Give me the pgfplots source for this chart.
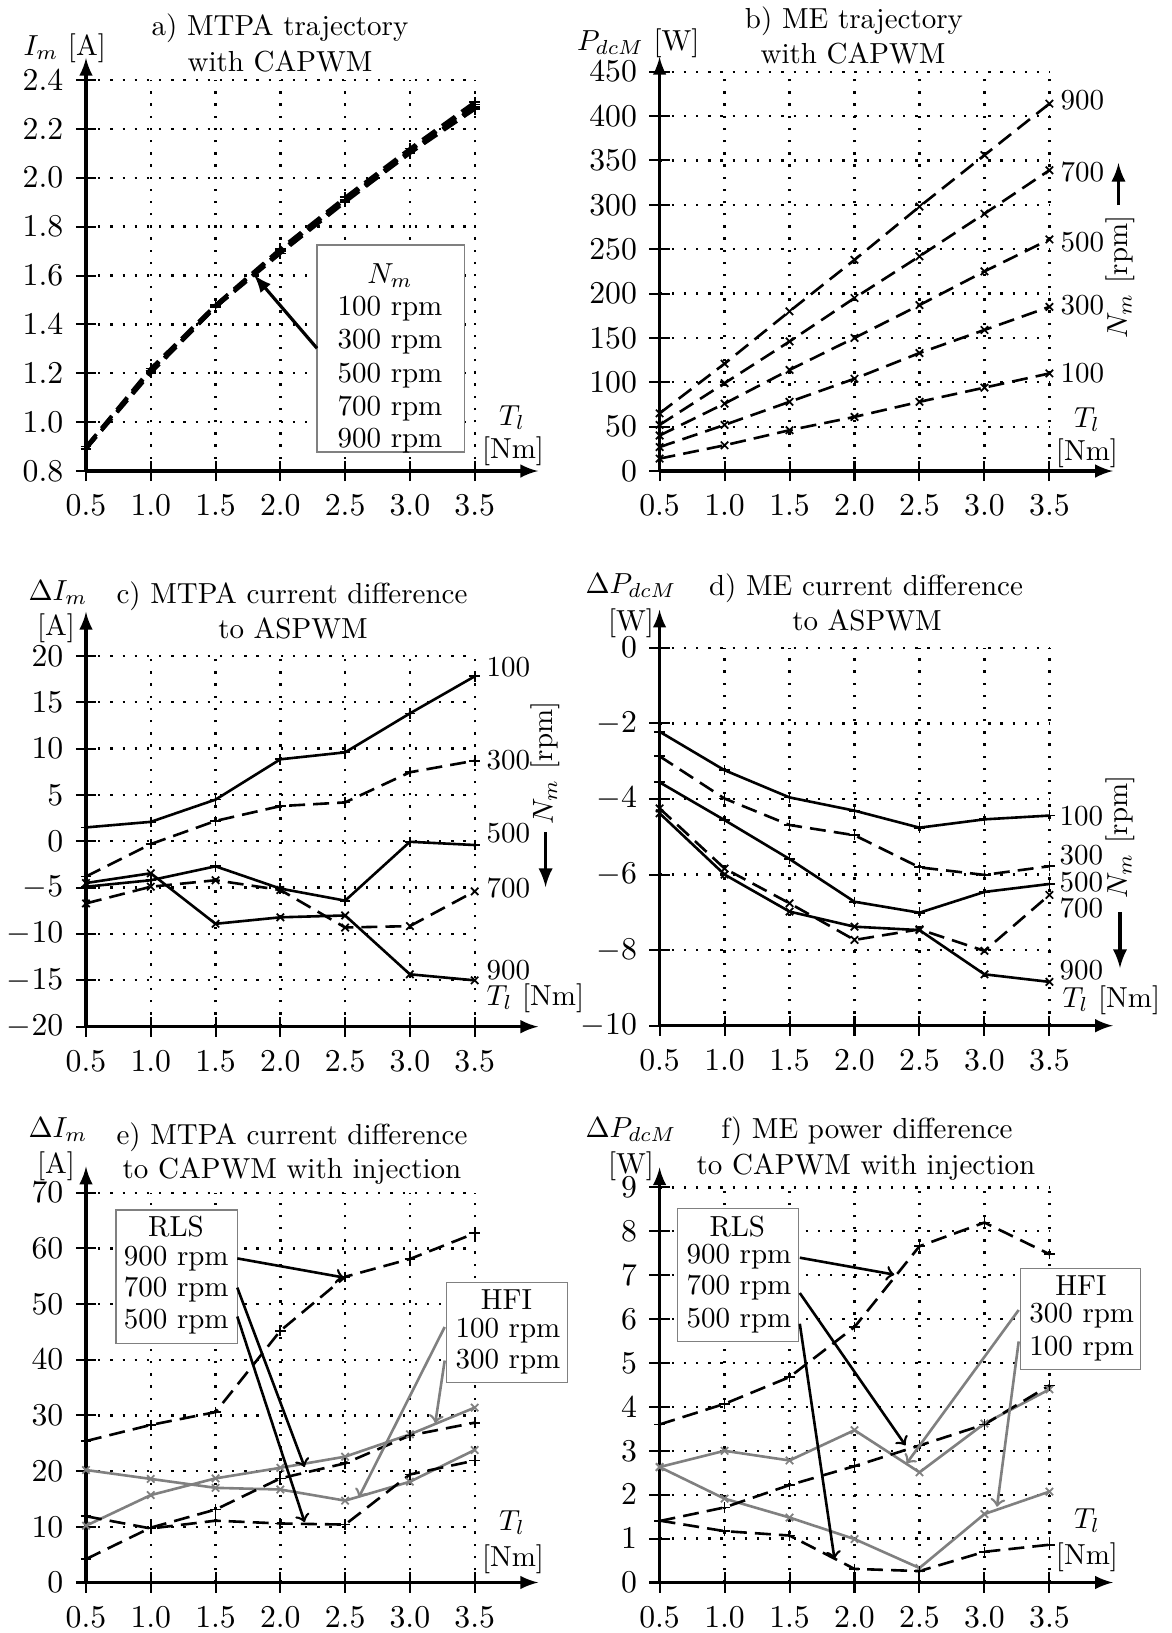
\documentclass[border=0pt]{standalone}
\usepackage{pgfplots}
\pgfplotsset{compat=1.18}
\begin{document}
\begin{tikzpicture}
\path[use as bounding box] (0,0) rectangle (404.34pt,-563.39pt);
\pgfplotsset{
  base/.style={
    scale only axis, clip=false, anchor=south west,
    axis lines=left,
    axis line style={line width=1.1pt,-latex},
    xmin=0.5, xmax=3.5, xtick={0.5,1.0,1.5,2.0,2.5,3.0,3.5},
    ticklabel style={font=\fontsize{11}{13}\selectfont},
    xticklabel style={yshift=-1.3pt, /pgf/number format/.cd,fixed,fixed zerofill,precision=1},
    yticklabel style={xshift=-0.8pt},
    x axis line style={shorten >=-21.9pt},
    grid=major,
    grid style={black, line width=0.8pt, dash pattern=on 0.8pt off 3.4pt},
    tick align=center, major tick length=7pt,
    tick style={black, line width=0.7pt},
    mark size=1.8pt,
  },
  dsh/.style={dash pattern=on 5.5pt off 2.8pt},
  pl/.style={black, line width=0.9pt, mark options={solid, line width=0.6pt}},
  hf/.style={black!50, line width=0.9pt, mark=x, mark options={solid, line width=0.6pt, black!50}},
}
% ---------- a ----------
\begin{axis}[base, at={(29.67pt,-162.5pt)}, width=134.1pt, height=134.9pt,
  ymin=0.8, ymax=2.4, ytick={0.8,1.0,1.2,1.4,1.6,1.8,2.0,2.2,2.4},
  yticklabel style={/pgf/number format/.cd,fixed,fixed zerofill,precision=1},
  y axis line style={shorten >=-7.6pt}]
\addplot[pl, dsh, mark=+, line width=1.1pt] coordinates {(0.5,0.89)(1.0,1.21)(1.5,1.47)(2.0,1.70)(2.5,1.91)(3.0,2.11)(3.5,2.29)};
\addplot[pl, dsh, mark=+, line width=1.1pt] coordinates {(0.5,0.89)(1.0,1.21)(1.5,1.47)(2.0,1.70)(2.5,1.91)(3.0,2.10)(3.5,2.29)};
\addplot[pl, dsh, mark=+, line width=1.1pt] coordinates {(0.5,0.90)(1.0,1.21)(1.5,1.48)(2.0,1.70)(2.5,1.91)(3.0,2.11)(3.5,2.30)};
\addplot[pl, dsh, mark=+, line width=1.1pt] coordinates {(0.5,0.89)(1.0,1.20)(1.5,1.47)(2.0,1.69)(2.5,1.90)(3.0,2.10)(3.5,2.28)};
\addplot[pl, dsh, mark=+, line width=1.1pt] coordinates {(0.5,0.90)(1.0,1.22)(1.5,1.48)(2.0,1.71)(2.5,1.92)(3.0,2.12)(3.5,2.31)};
\end{axis}
% ---------- b ----------
\begin{axis}[base, at={(227.56pt,-162.5pt)}, width=134.5pt, height=137.76pt,
  ymin=0, ymax=450, ytick={0,50,...,450},
  y axis line style={shorten >=-5.1pt}]
\addplot[pl, dsh, mark=x] coordinates {(0.5,65)(1.0,121)(1.5,180)(2.0,238)(2.5,298)(3.0,356)(3.5,414)};
\addplot[pl, dsh, mark=x] coordinates {(0.5,52)(1.0,99)(1.5,146)(2.0,195)(2.5,242)(3.0,290)(3.5,339)};
\addplot[pl, dsh, mark=x] coordinates {(0.5,40)(1.0,76)(1.5,114)(2.0,150)(2.5,187)(3.0,225)(3.5,261)};
\addplot[pl, dsh, mark=x] coordinates {(0.5,27)(1.0,52)(1.5,78)(2.0,104)(2.5,133)(3.0,159)(3.5,185)};
\addplot[pl, dsh, mark=x] coordinates {(0.5,14)(1.0,29)(1.5,46)(2.0,61)(2.5,78)(3.0,94)(3.5,110)};
\end{axis}
% ---------- c ----------
\begin{axis}[base, at={(29.67pt,-354.2pt)}, width=134.1pt, height=127.9pt,
  ymin=-20, ymax=20, ytick={-20,-15,...,20},
  y axis line style={shorten >=-15.2pt}]
\addplot[pl, mark=+] coordinates {(0.5,1.5)(1.0,2.1)(1.5,4.5)(2.0,8.85)(2.5,9.6)(3.0,13.8)(3.5,17.8)};
\addplot[pl, dsh, mark=+] coordinates {(0.5,-3.8)(1.0,-0.3)(1.5,2.2)(2.0,3.8)(2.5,4.2)(3.0,7.45)(3.5,8.7)};
\addplot[pl, mark=+] coordinates {(0.5,-4.9)(1.0,-4.2)(1.5,-2.7)(2.0,-5.1)(2.5,-6.4)(3.0,-0.05)(3.5,-0.4)};
\addplot[pl, dsh, mark=x] coordinates {(0.5,-6.7)(1.0,-4.9)(1.5,-4.2)(2.0,-5.25)(2.5,-9.3)(3.0,-9.15)(3.5,-5.4)};
\addplot[pl, mark=x] coordinates {(0.5,-4.5)(1.0,-3.45)(1.5,-8.9)(2.0,-8.2)(2.5,-8.0)(3.0,-14.35)(3.5,-15.0)};
\end{axis}
% ---------- d ----------
\begin{axis}[base, at={(227.56pt,-353.87pt)}, width=134.5pt, height=130.4pt,
  ymin=-10, ymax=0, ytick={-10,-8,-6,-4,-2,0},
  y axis line style={shorten >=-13.1pt}]
\addplot[pl, mark=+] coordinates {(0.5,-2.22)(1.0,-3.24)(1.5,-3.96)(2.0,-4.31)(2.5,-4.76)(3.0,-4.54)(3.5,-4.44)};
\addplot[pl, dsh, mark=+] coordinates {(0.5,-2.87)(1.0,-3.99)(1.5,-4.69)(2.0,-4.96)(2.5,-5.81)(3.0,-6.01)(3.5,-5.78)};
\addplot[pl, mark=+] coordinates {(0.5,-3.56)(1.0,-4.56)(1.5,-5.59)(2.0,-6.72)(2.5,-7.01)(3.0,-6.46)(3.5,-6.25)};
\addplot[pl, dsh, mark=x] coordinates {(0.5,-4.25)(1.0,-5.84)(1.5,-6.76)(2.0,-7.73)(2.5,-7.45)(3.0,-8.02)(3.5,-6.54)};
\addplot[pl, mark=x] coordinates {(0.5,-4.38)(1.0,-6.0)(1.5,-6.98)(2.0,-7.38)(2.5,-7.47)(3.0,-8.64)(3.5,-8.84)};
\end{axis}
% ---------- e ----------
\begin{axis}[base, at={(29.67pt,-545.96pt)}, width=134.1pt, height=134.48pt,
  ymin=0, ymax=70, ytick={0,10,...,70},
  y axis line style={shorten >=-9pt}]
\addplot[hf] coordinates {(0.5,20.2)(1.0,18.6)(1.5,17.0)(2.0,16.7)(2.5,14.7)(3.0,18.1)(3.5,23.8)};
\addplot[hf] coordinates {(0.5,10.2)(1.0,15.7)(1.5,18.7)(2.0,20.6)(2.5,22.6)(3.0,26.6)(3.5,31.4)};
\addplot[pl, dsh, mark=+] coordinates {(0.5,25.4)(1.0,28.3)(1.5,30.6)(2.0,45.2)(2.5,54.9)(3.0,58.1)(3.5,62.7)};
\addplot[pl, dsh, mark=+] coordinates {(0.5,4.2)(1.0,9.85)(1.5,13.1)(2.0,18.7)(2.5,21.4)(3.0,26.4)(3.5,28.7)};
\addplot[pl, dsh, mark=+] coordinates {(0.5,11.9)(1.0,9.7)(1.5,11.1)(2.0,10.6)(2.5,10.4)(3.0,19.4)(3.5,21.9)};
\end{axis}
% ---------- f ----------
\begin{axis}[base, at={(227.56pt,-545.96pt)}, width=134.5pt, height=136.3pt,
  ymin=0, ymax=9, ytick={0,1,...,9},
  y axis line style={shorten >=-6.9pt}]
\addplot[hf] coordinates {(0.5,2.63)(1.0,3.0)(1.5,2.78)(2.0,3.47)(2.5,2.51)(3.0,3.62)(3.5,4.4)};
\addplot[hf] coordinates {(0.5,2.63)(1.0,1.91)(1.5,1.48)(2.0,0.99)(2.5,0.33)(3.0,1.56)(3.5,2.07)};
\addplot[pl, dsh, mark=+] coordinates {(0.5,3.6)(1.0,4.07)(1.5,4.68)(2.0,5.82)(2.5,7.66)(3.0,8.2)(3.5,7.48)};
\addplot[pl, dsh, mark=+] coordinates {(0.5,1.40)(1.0,1.71)(1.5,2.22)(2.0,2.65)(2.5,3.12)(3.0,3.6)(3.5,4.49)};
\addplot[pl, dsh, mark=+] coordinates {(0.5,1.41)(1.0,1.17)(1.5,1.07)(2.0,0.31)(2.5,0.26)(3.0,0.70)(3.5,0.86)};
\end{axis}
% ---------- annotations ----------
\begin{scope}[x=0.345pt, y=-0.345pt, every node/.style={inner sep=0pt}]
% titles
\node[anchor=base] at (280,35) {a) MTPA trajectory};
\node[anchor=base] at (280,71.7) {with CAPWM};
\node[anchor=base] at (854,28.3) {b) ME trajectory};
\node[anchor=base] at (853,63) {with CAPWM};
\node[anchor=base] at (292,603) {c) MTPA current difference};
\node[anchor=base] at (293,638) {to ASPWM};
\node[anchor=base] at (866,595) {d) ME current difference};
\node[anchor=base] at (867,630) {to ASPWM};
\node[anchor=base] at (292,1144) {e) MTPA current difference};
\node[anchor=base] at (292,1178) {to CAPWM with injection};
\node[anchor=base] at (867,1138.6) {f) ME power difference};
\node[anchor=base] at (866,1174.7) {to CAPWM with injection};
% y labels
\node[anchor=base west] at (23,55) {$I_m$ [A]};
\node[anchor=base east] at (700,50) {$P_{dcM}$ [W]};
\node[anchor=base] at (58,600) {$\Delta I_m$};
\node[anchor=base] at (56,635) {[A]};
\node[anchor=base] at (631,593) {$\Delta P_{dcM}$};
\node[anchor=base] at (631,630) {[W]};
\node[anchor=base] at (58,1137) {$\Delta I_m$};
\node[anchor=base] at (56,1173) {[A]};
\node[anchor=base] at (631,1137) {$\Delta P_{dcM}$};
\node[anchor=base] at (631,1173) {[W]};
% x labels
\node[anchor=base] at (512,425) {$T_l$};
\node[anchor=base] at (513,458) {[Nm]};
\node[anchor=base] at (1087,427) {$T_l$};
\node[anchor=base] at (1087,460) {[Nm]};
\node[anchor=base west] at (486,1005) {$T_l$ [Nm]};
\node[anchor=base west] at (1062,1007) {$T_l$ [Nm]};
\node[anchor=base] at (512,1530) {$T_l$};
\node[anchor=base] at (513,1566) {[Nm]};
\node[anchor=base] at (1087,1528) {$T_l$};
\node[anchor=base] at (1087,1564) {[Nm]};
% right labels b
\node[anchor=west] at (1060,100) {900};
\node[anchor=west] at (1060,172) {700};
\node[anchor=west] at (1060,242) {500};
\node[anchor=west] at (1060,305) {300};
\node[anchor=west] at (1060,373) {100};
\node[rotate=90] at (1120,277) {$N_m$ [rpm]};
\draw[line width=1.2pt,-latex] (1118.5,205) -- (1118.5,163);
% right labels c
\node[anchor=west] at (486,667) {100};
\node[anchor=west] at (486,760) {300};
\node[anchor=west] at (486,833) {500};
\node[anchor=west] at (486,888) {700};
\node[anchor=west] at (486,970) {900};
\node[rotate=90] at (545.6,763) {$N_m$ [rpm]};
\draw[line width=1.2pt,-latex] (545.6,832) -- (545.6,887);
% right labels d
\node[anchor=west] at (1059,816) {100};
\node[anchor=west] at (1059,855) {300};
\node[anchor=west] at (1059,882) {500};
\node[anchor=west] at (1059,908) {700};
\node[anchor=west] at (1059,970) {900};
\node[rotate=90] at (1120,837) {$N_m$ [rpm]};
\draw[line width=1.2pt,-latex] (1120,912) -- (1120,968);
% legend a
\draw[black!50, fill=white, line width=0.4pt] (317,245) rectangle (464.5,452);
\node[anchor=base] at (390,283) {$N_m$};
\node[anchor=base] at (390,315) {100 rpm};
\node[anchor=base] at (390,348.5) {300 rpm};
\node[anchor=base] at (390,382) {500 rpm};
\node[anchor=base] at (390,415) {700 rpm};
\node[anchor=base] at (390,447) {900 rpm};
\draw[line width=1.1pt,-latex] (317,348.3) -- (254.1,275);
% e boxes
\draw[black!50, fill=white, line width=0.4pt] (116,1210) rectangle (237.3,1343.2);
\node[anchor=base] at (176,1236.7) {RLS};
\node[anchor=base west] at (123.3,1265) {900 rpm};
\node[anchor=base west] at (123.3,1296.6) {700 rpm};
\node[anchor=base west] at (123.3,1328) {500 rpm};
\draw[black!50, fill=white, line width=0.4pt] (446.6,1282.2) rectangle (567.3,1382.2);
\node[anchor=base] at (506.4,1309) {HFI};
\node[anchor=base west] at (455,1337) {100 rpm};
\node[anchor=base west] at (455,1368.8) {300 rpm};
\draw[line width=0.9pt,->] (237.3,1258.4) -- (343.8,1277.5);
\draw[line width=0.9pt,->] (237.3,1287.6) -- (304.6,1467);
\draw[line width=0.9pt,->] (237.3,1316.5) -- (304.6,1522.2);
\draw[black!50, line width=0.9pt,->] (444.7,1327) -- (358.7,1497.6);
\draw[black!50, line width=0.9pt,->] (444.7,1360.5) -- (435.3,1423);
% f boxes
\draw[black!50, fill=white, line width=0.4pt] (677.6,1208.9) rectangle (798.3,1341.4);
\node[anchor=base] at (737.3,1236) {RLS};
\node[anchor=base west] at (686,1263) {900 rpm};
\node[anchor=base west] at (686,1294.5) {700 rpm};
\node[anchor=base west] at (686,1327) {500 rpm};
\draw[black!50, fill=white, line width=0.4pt] (1020.6,1268.5) rectangle (1140.9,1369.5);
\node[anchor=base] at (1081,1295.5) {HFI};
\node[anchor=base west] at (1028.8,1322.6) {300 rpm};
\node[anchor=base west] at (1028.8,1355) {100 rpm};
\draw[line width=0.9pt,->] (799.8,1257.7) -- (894.3,1274.6);
\draw[line width=0.9pt,->] (799.8,1293) -- (905.5,1445.3);
\draw[line width=0.9pt,->] (799.8,1323.7) -- (834.5,1559);
\draw[black!50, line width=0.9pt,->] (1018.7,1310) -- (906.6,1463.4);
\draw[black!50, line width=0.9pt,->] (1018.7,1341.4) -- (997,1506.7);
\end{scope}
\end{tikzpicture}
\end{document}
